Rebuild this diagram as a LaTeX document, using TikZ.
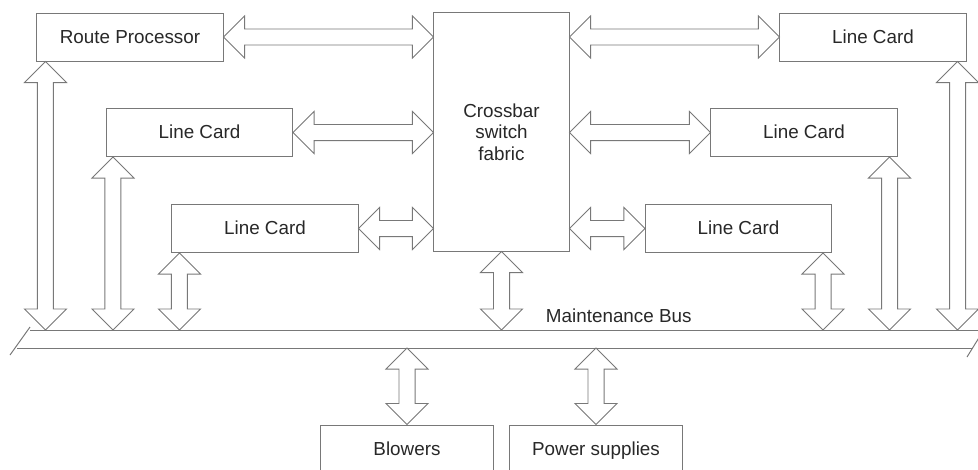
\documentclass[tikz,border=0pt]{standalone}
\usepackage{fontspec}
\setmainfont{Liberation Sans}
\usetikzlibrary{calc}
\newcommand{\FATHL}{0.525cm}
\newcommand{\FATHW}{0.525cm}
\newcommand{\FATSW}{0.2cm}
\definecolor{rtline}{RGB}{120,120,120}
\definecolor{rttext}{RGB}{40,40,40}

% hollow double-headed arrow between two points
\newcommand{\fatarrow}[2]{%
  \coordinate (fa) at #1; \coordinate (fb) at #2;
  \coordinate (h1) at ($(fa)!\FATHL!(fb)$);
  \coordinate (h2) at ($(fb)!\FATHL!(fa)$);
  \draw[fat] (fa) -- ($(h1)!\FATHW!90:(fb)$) -- ($(h1)!\FATSW!90:(fb)$)
    -- ($(h2)!\FATSW!-90:(fa)$) -- ($(h2)!\FATHW!-90:(fa)$) -- (fb)
    -- ($(h2)!\FATHW!90:(fa)$) -- ($(h2)!\FATSW!90:(fa)$)
    -- ($(h1)!\FATSW!-90:(fb)$) -- ($(h1)!\FATHW!-90:(fb)$) -- cycle;}
\newcommand{\hfat}[2]{\coordinate (ha) at #1; \fatarrow{(ha)}{(ha -| #2)}}
\newcommand{\vfat}[2]{\coordinate (va) at #1; \fatarrow{(va)}{(va |- #2)}}

\begin{document}
\begin{tikzpicture}[
    x=0.025cm, y=-0.025cm,
    box/.style={draw=rtline, line width=0.7pt, fill=white, inner sep=0pt,
      minimum width=4.65cm, minimum height=1.2cm, text=rttext,
      font=\fontsize{13.4}{15.3}\selectfont},
    card/.style={box, text height=9.2pt, text depth=0pt},
    fat/.style={draw=rtline, line width=0.7pt, fill=white, line join=miter},
    busline/.style={draw=rtline, line width=0.7pt},
    tag/.style={text=rttext, font=\fontsize{13.4}{15.3}\selectfont},
  ]
  \useasboundingbox (0,0) rectangle (978,469);
  \clip (0,0) rectangle (978,469);

  %% ================= the boxes =================
  \node[card] (rp)   at (130,37)      {Route Processor};
  \node[card] (lcl1) at (199.5,132.5) {Line Card};
  \node[card] (lcl2) at (265,228.5)   {Line Card};
  \node[box, minimum width=3.375cm, minimum height=5.95cm, align=center]
    (xbar) at (501.5,132) {Crossbar\\switch\\fabric};
  \node[card] (lcr1) at (873,37)      {Line Card};
  \node[card] (lcr2) at (804,132.5)   {Line Card};
  \node[card] (lcr3) at (738.5,228.5) {Line Card};
  \node[card, minimum width=4.3cm] (blow) at (407,449) {Blowers};
  \node[card, minimum width=4.3cm] (pwr)  at (596,449) {Power supplies};

  %% ================= the maintenance bus =================
  \coordinate (bustop) at (0,330);
  \coordinate (busbot) at (0,348);
  \draw[busline] (30,330) -- (978,330);
  \draw[busline] (17,348) -- (973,348);
  \draw[busline] (10,355) -- (30,327);
  \draw[busline] (967,357) -- (980,336);
  \node[tag, anchor=west] (bus) at (541,316) {Maintenance Bus};

  %% ================= links to the crossbar =================
  \hfat{(rp.east)}{xbar.west}
  \hfat{(lcl1.east)}{xbar.west}
  \hfat{(lcl2.east)}{xbar.west}
  \hfat{(lcr1.west)}{xbar.east}
  \hfat{(lcr2.west)}{xbar.east}
  \hfat{(lcr3.west)}{xbar.east}

  %% ================= links to the bus =================
  \vfat{($(rp.south west)+(9,0)$)}{bustop}
  \vfat{($(lcl1.south west)+(7,0)$)}{bustop}
  \vfat{($(lcl2.south west)+(8,0)$)}{bustop}
  \vfat{(xbar.south)}{bustop}
  \vfat{($(lcr3.south east)+(-9,0)$)}{bustop}
  \vfat{($(lcr2.south east)+(-8,0)$)}{bustop}
  \vfat{($(lcr1.south east)+(-9,0)$)}{bustop}
  \vfat{(blow.north)}{busbot}
  \vfat{(pwr.north)}{busbot}
\end{tikzpicture}
\end{document}
